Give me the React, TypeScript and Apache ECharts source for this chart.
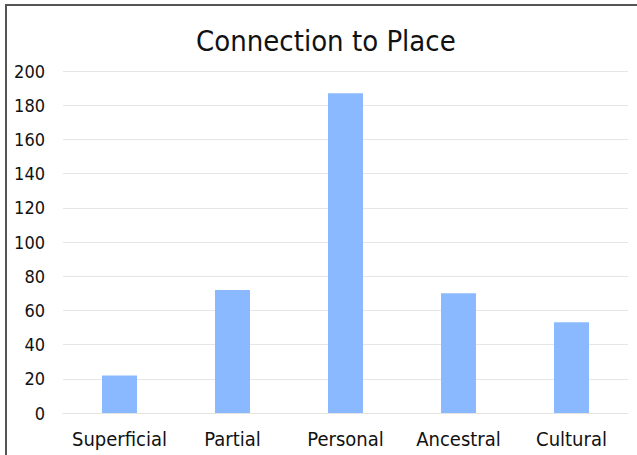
import React, { useEffect, useRef } from "react";
import * as echarts from "echarts";

const categories = ["Superficial", "Partial", "Personal", "Ancestral", "Cultural"];
const counts = [22, 72, 187, 70, 53];
const chartTitle = "Connection to Place";

const FONT = "'DejaVu Sans Condensed', 'DejaVu Sans', sans-serif";

export default function App() {
  const ref = useRef<HTMLDivElement>(null);

  useEffect(() => {
    if (!ref.current) return;
    const chart = echarts.init(ref.current, null, { renderer: "svg" });
    chart.setOption({
      animation: false,
      backgroundColor: "#ffffff",
      title: {
        text: chartTitle,
        left: 191,
        top: 21,
        textStyle: { fontFamily: FONT, fontSize: 29, fontWeight: "normal", color: "#111" },
      },
      graphic: [
        {
          type: "rect",
          shape: { x: 6, y: 5, width: 700, height: 500 },
          style: { fill: "none", stroke: "#555", lineWidth: 2 },
          silent: true,
        },
      ],
      grid: { left: 63, right: 9, top: 71, bottom: 42, containLabel: false },
      xAxis: {
        type: "category",
        data: categories,
        axisLine: { show: true, lineStyle: { color: "#e3e3e3" } },
        axisTick: { show: false },
        axisLabel: { interval: 0, fontFamily: FONT, fontSize: 20, color: "#111", margin: 16 },
      },
      yAxis: {
        type: "value",
        min: 0,
        max: 200,
        interval: 20,
        axisLine: { show: false },
        axisTick: { show: false },
        splitLine: { lineStyle: { color: "#e6e6e6" } },
        axisLabel: { fontFamily: FONT, fontSize: 18, color: "#111", margin: 18 },
      },
      series: [
        {
          type: "bar",
          data: counts,
          barWidth: 35,
          itemStyle: { color: "#8ab9ff" },
        },
      ],
    });
    return () => chart.dispose();
  }, []);

  return (
    <div
      ref={ref}
      style={{ position: "fixed", left: 0, top: 0, width: 637, height: 455 }}
    />
  );
}
